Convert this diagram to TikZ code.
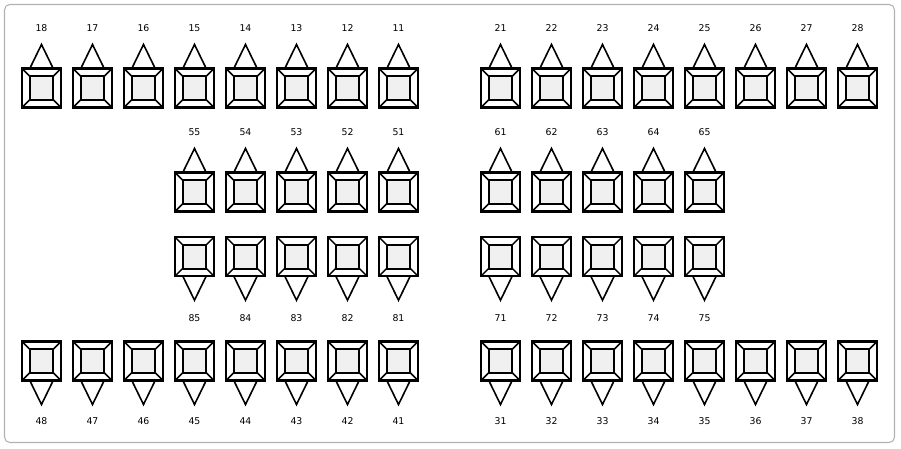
\documentclass[tikz,border=0pt]{standalone}
\usepackage{fontspec}
\setmainfont{DejaVu Sans}
\begin{document}
\begin{tikzpicture}[x=0.75pt,y=-0.75pt,
  sq/.style={line width=1.6pt},
  diag/.style={line width=1.1pt},
  tri/.style={line width=1.2pt, line join=miter},
  lab/.style={font=\fontsize{7}{8}\selectfont, inner sep=0pt},
  tooth/.pic={
    \draw[diag] (-19.5,-19.5) -- (-11.9,-11.9);
    \draw[diag] (19.5,-19.5) -- (11.9,-11.9);
    \draw[diag] (-19.5,19.5) -- (-11.9,11.9);
    \draw[diag] (19.5,19.5) -- (11.9,11.9);
    \draw[sq] (-19.5,-19.5) rectangle (19.5,19.5);
    \draw[sq, fill=gray!12] (-11.9,-11.9) rectangle (11.9,11.9);
  },
  upt/.pic={
    \draw[tri] (-11.7,-19.5) -- (0,-43.5) -- (11.7,-19.5);
    \pic {tooth};
  },
  dnt/.pic={
    \draw[tri] (-11.7,19.5) -- (0,43.5) -- (11.7,19.5);
    \pic {tooth};
  }
]
\useasboundingbox (0,0) rectangle (901,449);
\draw[gray!60, line width=0.8pt, rounded corners=4pt] (4.5,4.5) rectangle (894.5,442.5);
% row 1 left
\foreach \n [count=\i from 0] in {18,17,16,15,14,13,12,11} {
  \pic at ({41.5+51*\i},88) {upt};
  \node[lab] (t\n) at ({41.5+51*\i},28) {\n};
}
% row 1 right
\foreach \n [count=\i from 0] in {21,22,23,24,25,26,27,28} {
  \pic at ({500.5+51*\i},88) {upt};
  \node[lab] (t\n) at ({500.5+51*\i},28) {\n};
}
% row 2 left
\foreach \n [count=\i from 3] in {55,54,53,52,51} {
  \pic at ({41.5+51*\i},192) {upt};
  \node[lab] (t\n) at ({41.5+51*\i},132) {\n};
}
% row 2 right
\foreach \n [count=\i from 0] in {61,62,63,64,65} {
  \pic at ({500.5+51*\i},192) {upt};
  \node[lab] (t\n) at ({500.5+51*\i},132) {\n};
}
% row 3 left
\foreach \n [count=\i from 3] in {85,84,83,82,81} {
  \pic at ({41.5+51*\i},256.7) {dnt};
  \node[lab] (t\n) at ({41.5+51*\i},318) {\n};
}
% row 3 right
\foreach \n [count=\i from 0] in {71,72,73,74,75} {
  \pic at ({500.5+51*\i},256.7) {dnt};
  \node[lab] (t\n) at ({500.5+51*\i},318) {\n};
}
% row 4 left
\foreach \n [count=\i from 0] in {48,47,46,45,44,43,42,41} {
  \pic at ({41.5+51*\i},361) {dnt};
  \node[lab] (t\n) at ({41.5+51*\i},421) {\n};
}
% row 4 right
\foreach \n [count=\i from 0] in {31,32,33,34,35,36,37,38} {
  \pic at ({500.5+51*\i},361) {dnt};
  \node[lab] (t\n) at ({500.5+51*\i},421) {\n};
}
\end{tikzpicture}
\end{document}
